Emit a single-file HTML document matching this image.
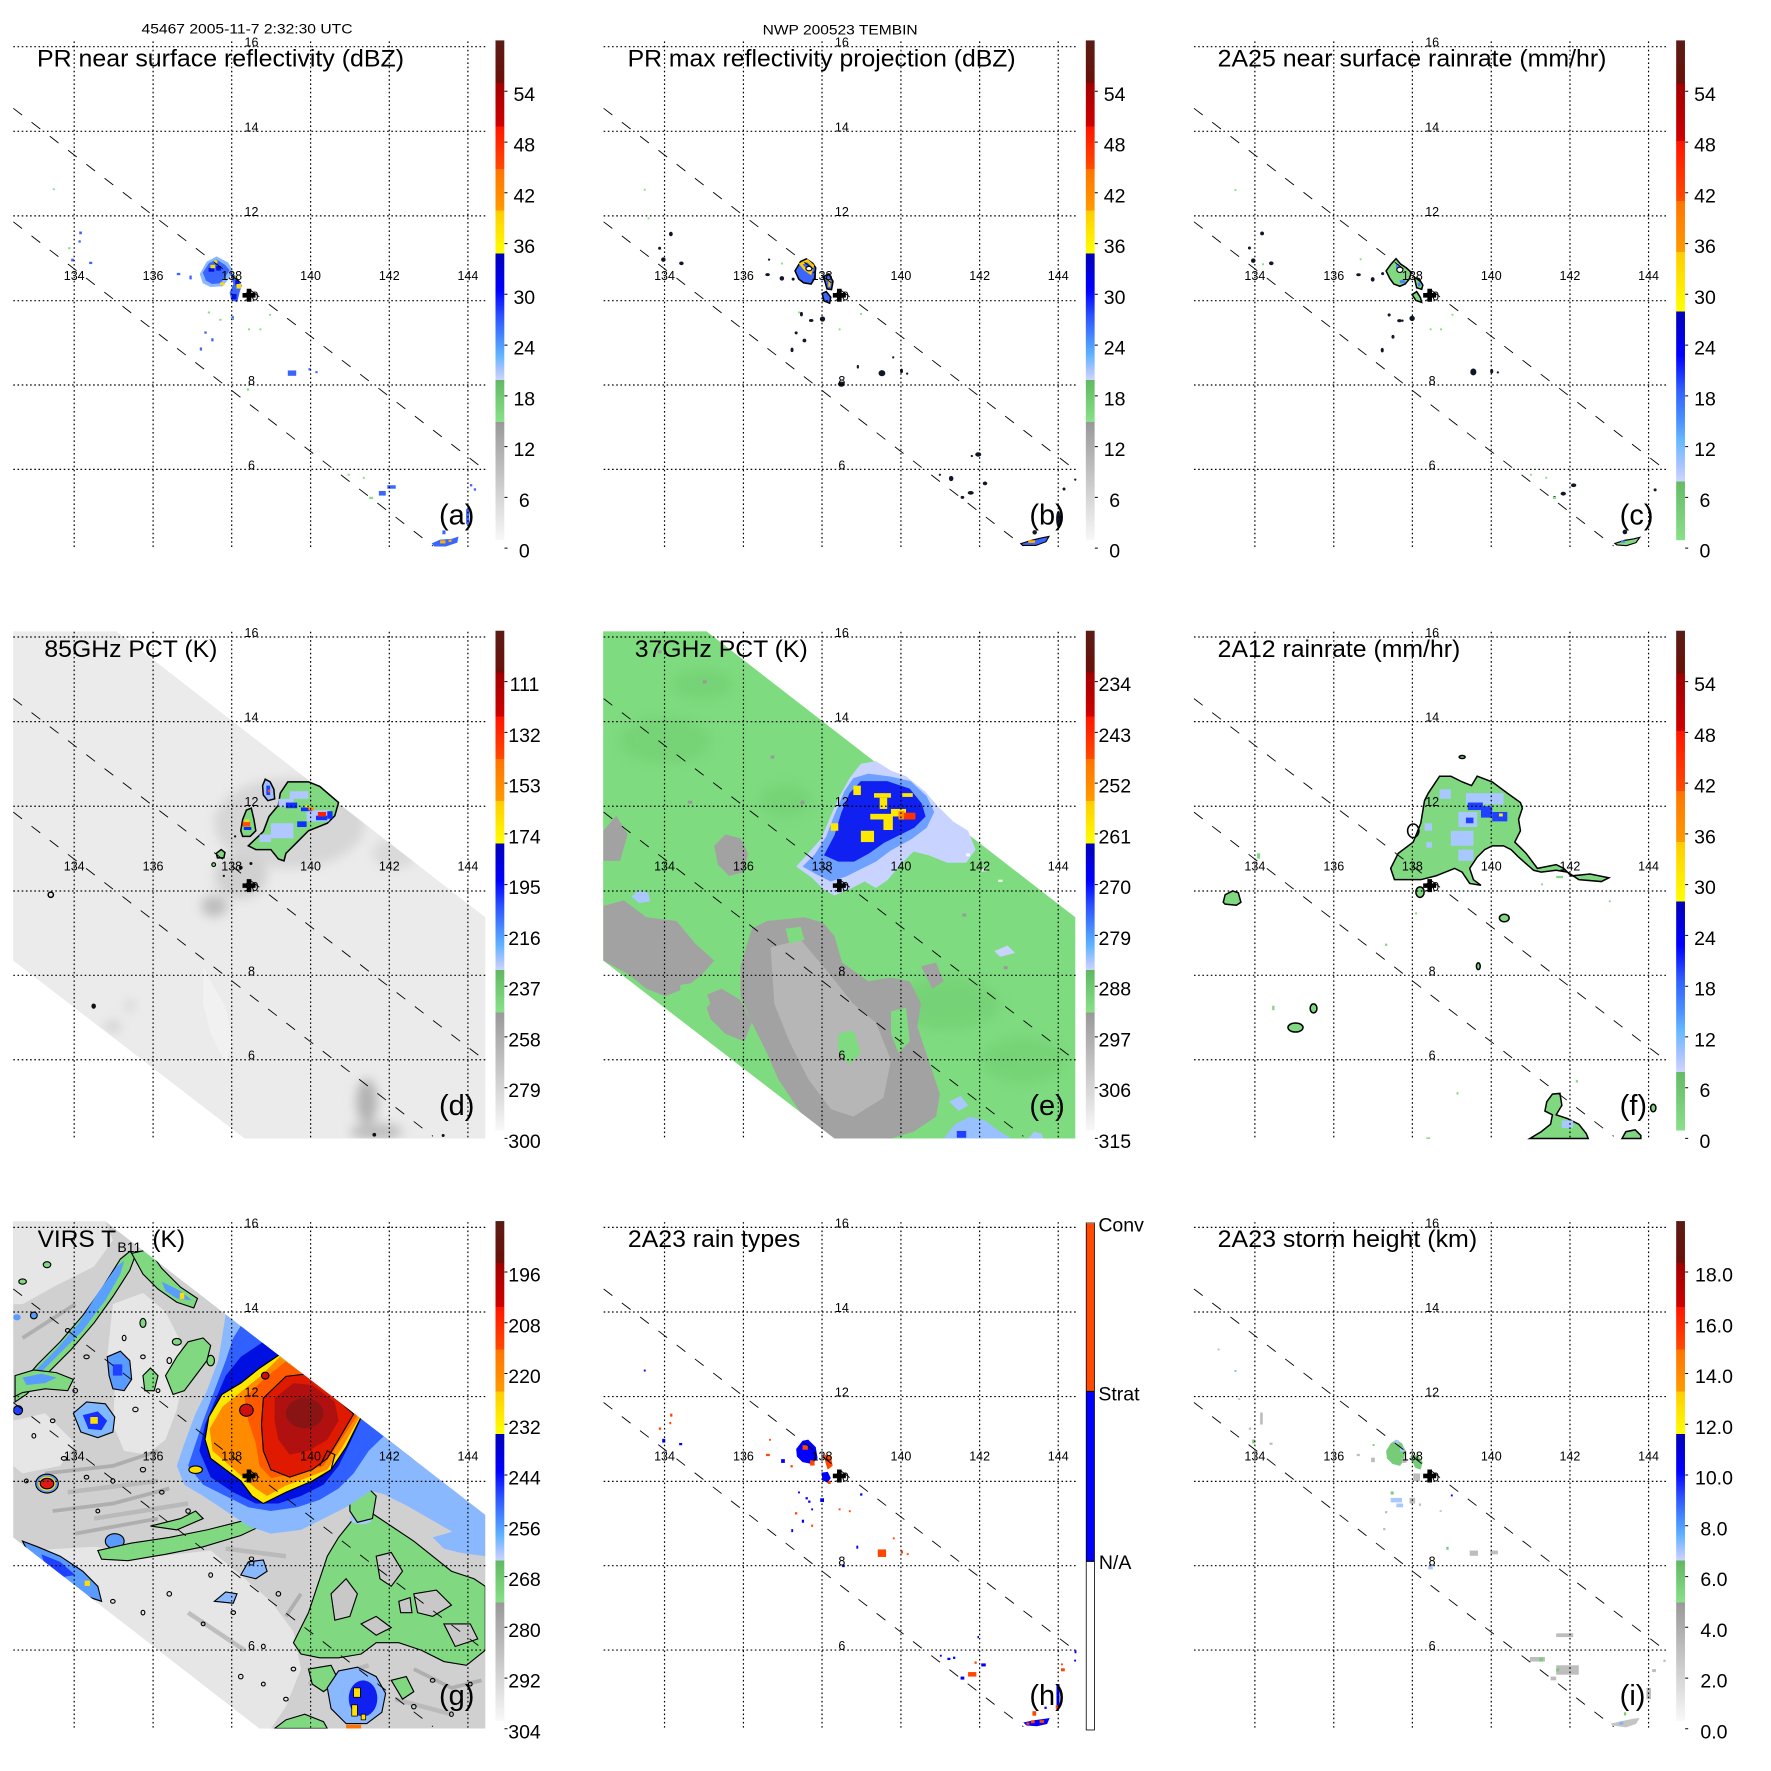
<!DOCTYPE html>
<html><head><meta charset="utf-8"><style>
html,body{margin:0;padding:0;background:#fff;}
svg{display:block;}
text{font-family:"Liberation Sans",Arial,sans-serif;fill:#000;}
.tk{font-size:12.5px;text-anchor:middle;}
.cb{font-size:19.5px;text-anchor:middle;}
.tt{font-size:24.5px;}
.pl{font-size:29px;}
</style></head><body>
<svg width="1771" height="1771" viewBox="0 0 1771 1771" xmlns="http://www.w3.org/2000/svg">
<defs>
<linearGradient id="gA" x1="0" y1="0" x2="0" y2="1">
<stop offset="0" stop-color="#5a1c16"/><stop offset="0.084" stop-color="#6b1008"/>
<stop offset="0.084" stop-color="#a00000"/><stop offset="0.172" stop-color="#d00000"/>
<stop offset="0.172" stop-color="#ff1500"/><stop offset="0.257" stop-color="#ff4a00"/>
<stop offset="0.257" stop-color="#ff7400"/><stop offset="0.3405" stop-color="#ff9a00"/>
<stop offset="0.3405" stop-color="#ffcc00"/><stop offset="0.426" stop-color="#ffff00"/>
<stop offset="0.426" stop-color="#0000b8"/><stop offset="0.50" stop-color="#0000ff"/>
<stop offset="0.55" stop-color="#2a50ff"/><stop offset="0.60" stop-color="#4a90ff"/>
<stop offset="0.63" stop-color="#60b4ff"/><stop offset="0.66" stop-color="#a8c4ff"/>
<stop offset="0.679" stop-color="#ccd4ff"/>
<stop offset="0.679" stop-color="#62b862"/><stop offset="0.7635" stop-color="#88e088"/>
<stop offset="0.7635" stop-color="#999999"/><stop offset="1" stop-color="#f8f8f8"/>
</linearGradient>
<linearGradient id="gC" x1="0" y1="0" x2="0" y2="1">
<stop offset="0" stop-color="#5a1c16"/><stop offset="0.086" stop-color="#6b1008"/>
<stop offset="0.086" stop-color="#a00000"/><stop offset="0.201" stop-color="#d00000"/>
<stop offset="0.201" stop-color="#ff1500"/><stop offset="0.321" stop-color="#ff4a00"/>
<stop offset="0.321" stop-color="#ff7400"/><stop offset="0.423" stop-color="#ff9a00"/>
<stop offset="0.423" stop-color="#ffcc00"/><stop offset="0.542" stop-color="#ffff00"/>
<stop offset="0.542" stop-color="#0000b8"/><stop offset="0.63" stop-color="#0000ff"/>
<stop offset="0.70" stop-color="#3060ff"/><stop offset="0.76" stop-color="#4a90ff"/>
<stop offset="0.80" stop-color="#66b8ff"/><stop offset="0.85" stop-color="#a8c4ff"/>
<stop offset="0.883" stop-color="#d0d4ff"/>
<stop offset="0.883" stop-color="#66bb66"/><stop offset="1" stop-color="#88e088"/>
</linearGradient>
<clipPath id="cDE"><path d="M35 110H310L1290 870V1458H650L35 985Z"/></clipPath>
<clipPath id="cG"><path d="M35 110H280L1290 890V1458H690L35 950Z"/></clipPath>
<filter id="bl" x="-50%" y="-50%" width="200%" height="200%"><feGaussianBlur stdDeviation="14"/></filter>
<g id="grid" fill="none" stroke="#000">
<path stroke-width="1.2" stroke-dasharray="1.6 2.6" d="M13.3 46.7H485.5M13.3 131.3H485.5M13.3 215.9H485.5M13.3 300.7H485.5M13.3 385H485.5M13.3 469.4H485.5M74.2 41.4V548.5M153.1 41.4V548.5M231.7 41.4V548.5M310.6 41.4V548.5M389.3 41.4V548.5M467.9 41.4V548.5"/>
<path stroke-width="0.9" stroke-dasharray="11 12" d="M13.3 108.3L486 470.7M13.3 221.8L433 546"/>
</g>
<path id="cross" fill="#000" d="M242.5 293h13v4.6h-13zM246.7 288.8h4.6v13h-4.6z"/>
<path id="cbt" stroke="#000" stroke-width="1" d="M504.5 91.3h3M504.5 142.1h3M504.5 192.8h3M504.5 243.6h3M504.5 294.3h3M504.5 345.1h3M504.5 395.9h3M504.5 446.6h3M504.5 497.4h3M504.5 548.1h3"/>
</defs>
<rect width="1771" height="1771" fill="#fff"/>

<!-- ============ (a) ============ -->
<g transform="translate(0,0)">
<g transform="scale(0.3827)">
<path fill="#8ab8ff" d="M522 716L540 684L566 670L596 686L608 706L598 728L582 748L550 750L530 740Z"/>
<path fill="#3a66ff" d="M530 712L546 688L566 678L588 692L600 706L590 722L576 740L554 742L538 733Z"/>
<path fill="#3a66ff" d="M600 712L618 722L632 746L626 764L620 790L604 784L600 764L610 742Z"/>
<g fill="#0010e0"><rect x="545" y="700" width="15" height="10"/><rect x="565" y="695" width="12" height="12"/><rect x="606" y="768" width="12" height="14"/><rect x="615" y="732" width="10" height="12"/></g>
<g fill="#ffdc00"><rect x="550" y="692" width="12" height="9"/><rect x="560" y="680" width="8" height="8"/><rect x="575" y="738" width="12" height="7"/><rect x="618" y="742" width="12" height="12"/><rect x="612" y="722" width="9" height="7"/></g>
<g fill="#3a66ff"><rect x="207" y="605" width="7" height="7"/><rect x="205" y="628" width="6" height="6"/><rect x="186" y="676" width="7" height="7"/><rect x="233" y="684" width="8" height="6"/><rect x="462" y="713" width="9" height="6"/><rect x="495" y="720" width="6" height="10"/><rect x="522" y="908" width="6" height="8"/><rect x="552" y="884" width="6" height="8"/><rect x="534" y="866" width="6" height="6"/><rect x="752" y="968" width="22" height="14"/><rect x="806" y="962" width="6" height="6"/><rect x="824" y="970" width="6" height="5"/><rect x="990" y="1283" width="18" height="12"/><rect x="1012" y="1268" width="22" height="9"/><rect x="1228" y="1265" width="6" height="6"/><rect x="1238" y="1276" width="6" height="6"/><rect x="1218" y="1330" width="8" height="40"/><rect x="1156" y="1386" width="8" height="10"/><rect x="605" y="826" width="6" height="10"/></g>
<g fill="#88dd88"><rect x="178" y="646" width="6" height="5"/><rect x="138" y="492" width="5" height="5"/><rect x="543" y="814" width="6" height="5"/><rect x="573" y="833" width="6" height="5"/><rect x="604" y="831" width="5" height="5"/><rect x="648" y="858" width="5" height="5"/><rect x="678" y="858" width="5" height="5"/><rect x="703" y="820" width="5" height="5"/><rect x="908" y="1238" width="6" height="5"/><rect x="948" y="1246" width="5" height="5"/><rect x="965" y="1298" width="10" height="6"/><rect x="645" y="1015" width="6" height="6"/></g>
<path fill="#3a66ff" d="M1128 1420L1150 1410L1180 1408L1198 1402L1195 1418L1165 1428L1135 1428Z"/>
<g fill="#ffb000"><rect x="1150" y="1412" width="14" height="8"/><rect x="1172" y="1410" width="8" height="6"/></g>
</g>
<use href="#grid"/>
<g class="tk"><text x="74.2" y="280">134</text><text x="153.1" y="280">136</text><text x="231.7" y="280">138</text><text x="310.6" y="280">140</text><text x="389.3" y="280">142</text><text x="467.9" y="280">144</text><text x="251.5" y="46.7">16</text><text x="251.5" y="131.3">14</text><text x="251.5" y="215.9">12</text><text x="251.5" y="300.7">10</text><text x="251.5" y="385">8</text><text x="251.5" y="469.4">6</text></g>
<use href="#cross"/>
<text x="247" y="33.7" font-size="14" text-anchor="middle" textLength="211" lengthAdjust="spacingAndGlyphs">45467 2005-11-7 2:32:30 UTC</text>
<text class="tt" x="37" y="66.5" textLength="367" lengthAdjust="spacingAndGlyphs">PR near surface reflectivity (dBZ)</text>
<rect x="495.5" y="40.4" width="8.8" height="499.8" fill="url(#gA)"/>
<use href="#cbt"/>
<g class="cb"><text x="524.3" y="100.8">54</text><text x="524.3" y="151.6">48</text><text x="524.3" y="202.3">42</text><text x="524.3" y="253.1">36</text><text x="524.3" y="303.8">30</text><text x="524.3" y="354.6">24</text><text x="524.3" y="405.4">18</text><text x="524.3" y="456.1">12</text><text x="524.3" y="506.9">6</text><text x="524.3" y="557.6">0</text></g>
<text class="pl" x="439" y="524.5">(a)</text>
</g>

<!-- ============ (b) ============ -->
<g transform="translate(590.33,0)">
<g transform="translate(-0.33,0) scale(0.3762)">
<path fill="#3a66ff" stroke="#000" stroke-width="4" d="M545 720L560 695L575 688L592 700L600 712L597 740L588 755L568 752L555 742Z"/>
<path fill="none" stroke="#ffcc00" stroke-width="7" d="M560 702L578 693L592 706L586 726L572 716Z"/>
<ellipse cx="582" cy="714" rx="8" ry="6" fill="#fff" stroke="#000" stroke-width="3"/>
<path fill="#3a66ff" stroke="#000" stroke-width="4" d="M620 735L635 728L646 748L642 770L630 768L625 750Z"/>
<path fill="none" stroke="#ffcc00" stroke-width="6" d="M627 738L637 748L636 762"/>
<path fill="#3a66ff" stroke="#000" stroke-width="4" d="M617 780L628 775L640 790L637 806L622 800Z"/>
<g fill="#101828"><ellipse cx="215" cy="622" rx="5" ry="6"/><ellipse cx="185" cy="660" rx="4" ry="4"/><ellipse cx="195" cy="690" rx="6" ry="6"/><ellipse cx="243" cy="700" rx="6" ry="5"/><ellipse cx="476" cy="690" rx="3" ry="3"/><ellipse cx="472" cy="730" rx="6" ry="4"/><ellipse cx="510" cy="740" rx="6" ry="6"/><ellipse cx="540" cy="742" rx="4" ry="4"/><ellipse cx="562" cy="835" rx="4" ry="6"/><ellipse cx="588" cy="852" rx="6" ry="4"/><ellipse cx="618" cy="848" rx="7" ry="7"/><ellipse cx="548" cy="885" rx="4" ry="4"/><ellipse cx="570" cy="905" rx="5" ry="5"/><ellipse cx="537" cy="930" rx="4" ry="6"/><ellipse cx="712" cy="975" rx="3" ry="5"/><ellipse cx="776" cy="992" rx="9" ry="8"/><ellipse cx="806" cy="950" rx="3" ry="3"/><ellipse cx="828" cy="986" rx="4" ry="6"/><ellipse cx="843" cy="993" rx="3" ry="3"/><ellipse cx="668" cy="1021" rx="9" ry="7"/><ellipse cx="1032" cy="1208" rx="8" ry="6"/><ellipse cx="1015" cy="1212" rx="3" ry="3"/><ellipse cx="960" cy="1272" rx="6" ry="7"/><ellipse cx="1012" cy="1310" rx="8" ry="5"/><ellipse cx="1050" cy="1285" rx="6" ry="5"/><ellipse cx="990" cy="1322" rx="5" ry="4"/><ellipse cx="1260" cy="1300" rx="4" ry="4"/><ellipse cx="1290" cy="1275" rx="3" ry="3"/><ellipse cx="1245" cy="1380" rx="6" ry="22"/><ellipse cx="1182" cy="1415" rx="6" ry="6"/><ellipse cx="930" cy="1262" rx="3" ry="3"/></g>
<path fill="#3a66ff" stroke="#000" stroke-width="3" d="M1145 1445L1175 1436L1200 1430L1220 1426L1212 1440L1185 1450L1150 1450Z"/>
<rect x="1165" y="1436" width="18" height="7" fill="#ffb000"/>
<g fill="#88dd88"><rect x="143" y="502" width="5" height="5"/><rect x="153" y="578" width="5" height="5"/><rect x="508" y="698" width="5" height="5"/><rect x="553" y="828" width="5" height="5"/><rect x="718" y="832" width="5" height="5"/><rect x="661" y="873" width="5" height="5"/></g>
</g>
<use href="#grid"/>
<g class="tk"><text x="74.2" y="280">134</text><text x="153.1" y="280">136</text><text x="231.7" y="280">138</text><text x="310.6" y="280">140</text><text x="389.3" y="280">142</text><text x="467.9" y="280">144</text><text x="251.5" y="46.7">16</text><text x="251.5" y="131.3">14</text><text x="251.5" y="215.9">12</text><text x="251.5" y="300.7">10</text><text x="251.5" y="385">8</text><text x="251.5" y="469.4">6</text></g>
<use href="#cross"/>
<text x="249.8" y="34.6" font-size="14" text-anchor="middle" textLength="155" lengthAdjust="spacingAndGlyphs">NWP 200523 TEMBIN</text>
<text class="tt" x="37.3" y="66.5" textLength="388" lengthAdjust="spacingAndGlyphs">PR max reflectivity projection (dBZ)</text>
<rect x="495.5" y="40.4" width="8.8" height="499.8" fill="url(#gA)"/>
<use href="#cbt"/>
<g class="cb"><text x="524.3" y="100.8">54</text><text x="524.3" y="151.6">48</text><text x="524.3" y="202.3">42</text><text x="524.3" y="253.1">36</text><text x="524.3" y="303.8">30</text><text x="524.3" y="354.6">24</text><text x="524.3" y="405.4">18</text><text x="524.3" y="456.1">12</text><text x="524.3" y="506.9">6</text><text x="524.3" y="557.6">0</text></g>
<text class="pl" x="439" y="524.5">(b)</text>
</g>

<!-- ============ (c) ============ -->
<g transform="translate(1180.67,0)">
<g transform="translate(-9.67,0) scale(0.3827)">
<path fill="#80d880" stroke="#000" stroke-width="4" d="M562 708L575 690L588 676L600 690L615 700L628 712L622 730L612 742L598 748L582 742L572 728Z"/>
<g fill="#4a80ff"><rect x="588" y="690" width="8" height="12"/><rect x="598" y="732" width="14" height="8"/></g>
<ellipse cx="598" cy="705" rx="8" ry="7" fill="#fff" stroke="#000" stroke-width="3"/>
<path fill="#80d880" stroke="#000" stroke-width="4" d="M636 726L648 728L658 745L655 756L642 752Z"/>
<rect x="645" y="738" width="7" height="10" fill="#4a80ff"/>
<path fill="#80d880" stroke="#000" stroke-width="4" d="M630 770L642 762L652 778L655 790L640 785Z"/>
<g fill="#101828"><ellipse cx="238" cy="610" rx="5" ry="5"/><ellipse cx="205" cy="648" rx="4" ry="4"/><ellipse cx="215" cy="681" rx="6" ry="6"/><ellipse cx="262" cy="688" rx="6" ry="5"/><ellipse cx="490" cy="718" rx="6" ry="4"/><ellipse cx="527" cy="730" rx="5" ry="6"/><ellipse cx="553" cy="715" rx="4" ry="4"/><ellipse cx="570" cy="823" rx="4" ry="4"/><ellipse cx="597" cy="838" rx="6" ry="4"/><ellipse cx="630" cy="832" rx="7" ry="7"/><ellipse cx="552" cy="915" rx="4" ry="6"/><ellipse cx="580" cy="880" rx="4" ry="5"/><ellipse cx="790" cy="972" rx="8" ry="9"/><ellipse cx="838" cy="970" rx="4" ry="6"/><ellipse cx="854" cy="973" rx="3" ry="3"/><ellipse cx="1025" cy="1290" rx="7" ry="5"/><ellipse cx="1052" cy="1268" rx="7" ry="5"/><ellipse cx="1002" cy="1300" rx="4" ry="4"/><ellipse cx="1265" cy="1280" rx="4" ry="4"/><ellipse cx="1186" cy="1390" rx="6" ry="6"/><ellipse cx="605" cy="838" rx="3" ry="3"/></g>
<path fill="#80d880" stroke="#000" stroke-width="3" d="M1160 1420L1185 1412L1210 1408L1225 1404L1215 1418L1190 1426L1165 1424Z"/>
<rect x="1176" y="1412" width="10" height="6" fill="#4a80ff"/>
<g fill="#88dd88"><rect x="166" y="494" width="5" height="5"/><rect x="238" y="688" width="5" height="5"/><rect x="493" y="675" width="5" height="5"/><rect x="676" y="858" width="5" height="5"/><rect x="703" y="858" width="5" height="5"/><rect x="733" y="820" width="5" height="5"/><rect x="938" y="1238" width="5" height="5"/><rect x="978" y="1246" width="5" height="5"/><rect x="998" y="1298" width="8" height="6"/></g>
</g>
<use href="#grid"/>
<g class="tk"><text x="74.2" y="280">134</text><text x="153.1" y="280">136</text><text x="231.7" y="280">138</text><text x="310.6" y="280">140</text><text x="389.3" y="280">142</text><text x="467.9" y="280">144</text><text x="251.5" y="46.7">16</text><text x="251.5" y="131.3">14</text><text x="251.5" y="215.9">12</text><text x="251.5" y="300.7">10</text><text x="251.5" y="385">8</text><text x="251.5" y="469.4">6</text></g>
<use href="#cross"/>
<text class="tt" x="37" y="66.5" textLength="388.8" lengthAdjust="spacingAndGlyphs">2A25 near surface rainrate (mm/hr)</text>
<rect x="495.5" y="40.4" width="8.8" height="499.8" fill="url(#gC)"/>
<use href="#cbt"/>
<g class="cb"><text x="524.3" y="100.8">54</text><text x="524.3" y="151.6">48</text><text x="524.3" y="202.3">42</text><text x="524.3" y="253.1">36</text><text x="524.3" y="303.8">30</text><text x="524.3" y="354.6">24</text><text x="524.3" y="405.4">18</text><text x="524.3" y="456.1">12</text><text x="524.3" y="506.9">6</text><text x="524.3" y="557.6">0</text></g>
<text class="pl" x="439" y="524.5">(c)</text>
</g>

<!-- ============ (d) ============ -->
<g transform="translate(0,590.33)">
<g transform="translate(0,-0.33) scale(0.3762)">
<path fill="#ebebeb" d="M35 110H310L1290 870V1458H650L35 985Z"/>
<g clip-path="url(#cDE)">
<g filter="url(#bl)">
<ellipse cx="770" cy="620" rx="200" ry="120" fill="#cdcdcd" opacity="0.7"/>
<ellipse cx="640" cy="760" rx="70" ry="60" fill="#d0d0d0"/>
<ellipse cx="570" cy="840" rx="35" ry="28" fill="#bdbdbd"/>
<ellipse cx="975" cy="1360" rx="28" ry="60" fill="#b2b2b2"/>
<ellipse cx="1000" cy="1440" rx="70" ry="22" fill="#bdbdbd"/>
<ellipse cx="300" cy="1160" rx="22" ry="14" fill="#cfcfcf"/>
<ellipse cx="345" cy="1105" rx="12" ry="14" fill="#cfcfcf"/>
<ellipse cx="1050" cy="700" rx="60" ry="40" fill="#dadada"/>
</g>
<path fill="#f2f2f2" opacity="0.8" d="M540 1000L560 1040L600 1110L620 1200L600 1260L560 1180L540 1100Z"/>
</g>
<g fill="#111"><ellipse cx="135" cy="810" rx="7" ry="7" fill="none" stroke="#000" stroke-width="4"/><ellipse cx="249" cy="1106" rx="6" ry="7"/><ellipse cx="995" cy="1448" rx="5" ry="5"/><ellipse cx="1178" cy="1450" rx="4" ry="4"/><ellipse cx="667" cy="727" rx="4" ry="4"/><ellipse cx="625" cy="655" rx="3" ry="3"/><ellipse cx="640" cy="738" rx="5" ry="5"/><ellipse cx="595" cy="760" rx="3" ry="3"/></g>
<path fill="#80d880" stroke="#000" stroke-width="4" d="M660 680L700 642L715 602L740 572L745 540L765 510L820 510L850 522L900 565L890 600L870 620L820 640L790 670L760 700L755 720L740 715L720 690L680 690Z"/>
<g fill="#b0c8ff"><rect x="720" y="620" width="60" height="40"/><rect x="740" y="555" width="40" height="22"/><rect x="815" y="585" width="60" height="30"/><rect x="770" y="535" width="50" height="20"/><rect x="690" y="650" width="30" height="20"/></g>
<g fill="#1030ff"><rect x="760" y="565" width="30" height="15"/><rect x="800" y="578" width="30" height="10"/><rect x="790" y="615" width="25" height="15"/><rect x="840" y="600" width="30" height="12"/><rect x="870" y="588" width="14" height="20"/></g>
<rect x="845" y="590" width="22" height="12" fill="#ff2000"/><rect x="820" y="578" width="15" height="8" fill="#ff9900"/><rect x="812" y="572" width="10" height="6" fill="#ffee00"/>
<path fill="#9ec0ff" stroke="#000" stroke-width="4" d="M698 520L705 503L718 510L728 530L730 555L712 560L700 545Z"/>
<rect x="708" y="520" width="10" height="25" fill="#2040ff"/><rect x="712" y="530" width="6" height="8" fill="#ff5000"/>
<path fill="#80d880" stroke="#000" stroke-width="4" d="M640 640L645 610L655 585L668 580L675 610L680 640L665 655L645 655Z"/>
<rect x="645" y="617" width="20" height="12" fill="#ff5000"/><rect x="648" y="630" width="20" height="8" fill="#0030ff"/><rect x="650" y="610" width="12" height="6" fill="#ffdd00"/>
<path fill="#80d880" stroke="#000" stroke-width="4" d="M575 700L588 690L598 698L595 712L578 712Z"/>
<ellipse cx="568" cy="730" rx="5" ry="5" fill="#80d880" stroke="#000" stroke-width="3"/>
</g>
<use href="#grid"/>
<g class="tk"><text x="74.2" y="280">134</text><text x="153.1" y="280">136</text><text x="231.7" y="280">138</text><text x="310.6" y="280">140</text><text x="389.3" y="280">142</text><text x="467.9" y="280">144</text><text x="251.5" y="46.7">16</text><text x="251.5" y="131.3">14</text><text x="251.5" y="215.9">12</text><text x="251.5" y="300.7">10</text><text x="251.5" y="385">8</text><text x="251.5" y="469.4">6</text></g>
<use href="#cross"/>
<text class="tt" x="44.4" y="66.5" textLength="173" lengthAdjust="spacingAndGlyphs">85GHz PCT (K)</text>
<rect x="495.5" y="40.4" width="8.8" height="499.8" fill="url(#gA)"/>
<use href="#cbt"/>
<g class="cb"><text x="524.5" y="100.8">111</text><text x="524.5" y="151.6">132</text><text x="524.5" y="202.3">153</text><text x="524.5" y="253.1">174</text><text x="524.5" y="303.8">195</text><text x="524.5" y="354.6">216</text><text x="524.5" y="405.4">237</text><text x="524.5" y="456.1">258</text><text x="524.5" y="506.9">279</text><text x="524.5" y="557.6">300</text></g>
<text class="pl" x="439" y="524.5">(d)</text>
</g>

<!-- ============ (e) ============ -->
<g transform="translate(590.33,590.33)">
<g transform="translate(-0.33,-0.33) scale(0.3762)">
<path fill="#7fdb7f" d="M35 110H310L1290 870V1458H650L35 985Z"/>
<g clip-path="url(#cDE)">
<g filter="url(#bl)" fill="#70cc70" opacity="0.55">
<ellipse cx="200" cy="400" rx="120" ry="60"/><ellipse cx="300" cy="250" rx="80" ry="40"/><ellipse cx="950" cy="1100" rx="140" ry="70"/><ellipse cx="1150" cy="1250" rx="110" ry="60"/><ellipse cx="520" cy="560" rx="70" ry="40"/>
</g>
<g fill="#a2a2a2">
<path d="M35 840L90 825L150 870L230 880L280 940L330 985L300 1020L250 1060L200 1080L150 1060L100 1020L35 985Z"/>
<path d="M400 1000L430 900L470 880L570 870L620 885L650 920L670 990L740 1040L800 1030L850 1040L880 1100L870 1160L900 1250L930 1340L920 1400L860 1440L800 1458L640 1458L560 1390L500 1300L470 1230L430 1150L400 1080Z"/>
<path d="M330 680L360 650L400 660L420 700L410 750L370 760L340 730Z"/>
<path d="M35 640L70 600L100 650L80 720L35 720Z"/>
<path d="M300 1080L350 1060L400 1090L430 1150L410 1200L360 1180L320 1140Z"/>
<path d="M880 1000L920 990L940 1040L910 1060Z"/>
</g>
<path fill="#b6b6b6" d="M480 950L560 930L620 1000L700 1100L760 1150L800 1250L780 1350L700 1400L640 1380L580 1300L530 1200L490 1100Z"/>
<g fill="#7fdb7f">
<path d="M240 1050L300 1040L320 1100L280 1140L240 1120Z"/>
<path d="M660 1180L700 1170L720 1230L690 1260L660 1230Z"/>
<path d="M800 1120L840 1110L850 1200L820 1230L800 1180Z"/>
<path d="M520 900L560 895L570 930L530 940Z"/>
</g>
<g fill="#999"><rect x="180" y="160" width="10" height="8"/><rect x="300" y="240" width="10" height="8"/><rect x="480" y="440" width="10" height="8"/><rect x="260" y="560" width="12" height="8"/><rect x="560" y="560" width="10" height="10"/><rect x="990" y="860" width="10" height="8"/><rect x="1100" y="1000" width="10" height="8"/></g>
<path fill="#a8c8ff" d="M110 815L130 798L155 805L160 828L130 832Z"/>
<path fill="#c8d4ff" d="M1075 960L1110 945L1130 965L1090 975Z"/>
<path fill="#99c0ff" d="M940 1458L970 1420L1010 1400L1050 1410L1090 1440L1120 1458Z"/>
<path fill="#a8c8ff" d="M955 1360L985 1345L1005 1370L980 1385Z"/>
<rect x="975" y="1438" width="25" height="18" fill="#2040ff"/>
<path fill="#a8c8ff" d="M1165 1458L1180 1440L1200 1445L1205 1458Z"/>
</g>
<path fill="#c8d4ff" d="M548 735L580 700L615 660L640 600L660 555L690 500L720 462L760 455L800 480L840 495L890 535L925 575L965 615L1005 640L1025 690L1000 725L950 725L900 705L860 695L830 725L790 772L760 792L730 775L690 795L650 812L620 795L590 765Z"/>
<path fill="#6ea0ff" d="M565 735L598 702L628 655L648 602L676 535L700 500L740 488L800 496L852 508L895 548L915 590L895 632L855 662L800 692L760 722L720 742L680 762L640 775L600 755Z"/>
<path fill="#1020f0" d="M622 705L650 652L668 592L690 540L720 508L790 508L850 528L882 568L892 602L862 632L822 652L782 672L742 700L702 722L660 722Z"/>
<g fill="#ffe800"><rect x="700" y="520" width="20" height="25"/><rect x="755" y="540" width="45" height="12"/><rect x="770" y="552" width="20" height="30"/><rect x="745" y="595" width="60" height="15"/><rect x="780" y="608" width="25" height="30"/><rect x="800" y="582" width="40" height="20"/><rect x="720" y="640" width="35" height="30"/><rect x="640" y="620" width="20" height="20"/><rect x="830" y="540" width="28" height="10"/></g>
<rect x="820" y="588" width="15" height="22" fill="#ff8800"/><rect x="835" y="592" width="30" height="18" fill="#ff3300"/>
<g fill="#fff" opacity="0.8"><rect x="1040" y="740" width="14" height="8"/><rect x="1000" y="700" width="10" height="8"/><rect x="1085" y="770" width="12" height="6"/></g>
</g>
<use href="#grid"/>
<g class="tk"><text x="74.2" y="280">134</text><text x="153.1" y="280">136</text><text x="231.7" y="280">138</text><text x="310.6" y="280">140</text><text x="389.3" y="280">142</text><text x="467.9" y="280">144</text><text x="251.5" y="46.7">16</text><text x="251.5" y="131.3">14</text><text x="251.5" y="215.9">12</text><text x="251.5" y="300.7">10</text><text x="251.5" y="385">8</text><text x="251.5" y="469.4">6</text></g>
<use href="#cross"/>
<text class="tt" x="44.4" y="66.5" textLength="173" lengthAdjust="spacingAndGlyphs">37GHz PCT (K)</text>
<rect x="495.5" y="40.4" width="8.8" height="499.8" fill="url(#gA)"/>
<use href="#cbt"/>
<g class="cb"><text x="524.5" y="100.8">234</text><text x="524.5" y="151.6">243</text><text x="524.5" y="202.3">252</text><text x="524.5" y="253.1">261</text><text x="524.5" y="303.8">270</text><text x="524.5" y="354.6">279</text><text x="524.5" y="405.4">288</text><text x="524.5" y="456.1">297</text><text x="524.5" y="506.9">306</text><text x="524.5" y="557.6">315</text></g>
<text class="pl" x="439" y="524.5">(e)</text>
</g>

<!-- ============ (f) ============ -->
<g transform="translate(1180.67,590.33)">
<g transform="translate(-0.67,-0.33) scale(0.3762)">
<path fill="#80d880" stroke="#000" stroke-width="4" d="M560 740L580 700L620 670L640 620L650 560L660 540L690 495L720 495L750 510L775 520L790 495L830 510L870 540L905 565L910 580L900 610L905 640L890 670L920 700L950 740L1000 730L1020 740L1040 760L1090 755L1140 765L1120 775L1060 770L1030 750L1000 745L960 750L940 745L900 710L880 690L860 680L830 680L810 690L790 710L770 740L780 770L800 785L770 780L750 750L730 740L680 760L640 770L600 770L570 770Z"/>
<g fill="#a8c8ff"><rect x="690" y="530" width="30" height="25"/><rect x="740" y="590" width="50" height="40"/><rect x="650" y="620" width="20" height="20"/><rect x="720" y="640" width="60" height="40"/><rect x="740" y="690" width="40" height="30"/><rect x="760" y="540" width="100" height="30"/><rect x="655" y="670" width="15" height="15"/></g>
<g fill="#2040ff"><rect x="765" y="565" width="40" height="20"/><rect x="800" y="575" width="30" height="30"/><rect x="830" y="590" width="40" height="25"/><rect x="760" y="605" width="20" height="15"/></g>
<rect x="848" y="594" width="10" height="8" fill="#ffee00"/>
<ellipse cx="620" cy="640" rx="15" ry="18" fill="none" stroke="#000" stroke-width="4"/>
<g fill="#80d880" stroke="#000" stroke-width="4">
<path d="M115 830L120 810L140 800L155 805L162 830L150 838L120 835Z"/>
<ellipse cx="307" cy="1163" rx="20" ry="12"/>
<ellipse cx="355" cy="1112" rx="9" ry="12"/>
<ellipse cx="862" cy="872" rx="13" ry="10"/>
<ellipse cx="638" cy="803" rx="11" ry="14"/>
<ellipse cx="793" cy="1000" rx="5" ry="9"/>
<path d="M930 1458L960 1440L985 1420L990 1395L970 1385L975 1360L990 1340L1010 1338L1015 1370L1000 1395L1030 1405L1060 1420L1080 1445L1085 1458Z"/>
<path d="M1175 1458L1185 1440L1210 1435L1225 1450L1225 1458Z"/>
<ellipse cx="1258" cy="1377" rx="7" ry="10"/>
<ellipse cx="750" cy="444" rx="8" ry="4"/>
</g>
<rect x="1015" y="1410" width="30" height="20" fill="#a8c8ff"/>
<g fill="#80d880"><rect x="245" y="1105" width="6" height="12"/><rect x="545" y="940" width="6" height="6"/><rect x="735" y="1335" width="5" height="6"/><rect x="1140" y="825" width="5" height="5"/><rect x="960" y="780" width="5" height="5"/><rect x="1000" y="760" width="18" height="6"/><rect x="1052" y="1303" width="6" height="6"/><rect x="655" y="1455" width="10" height="4"/><rect x="625" y="857" width="5" height="5"/><rect x="205" y="700" width="8" height="14"/></g>
</g>
<use href="#grid"/>
<g class="tk"><text x="74.2" y="280">134</text><text x="153.1" y="280">136</text><text x="231.7" y="280">138</text><text x="310.6" y="280">140</text><text x="389.3" y="280">142</text><text x="467.9" y="280">144</text><text x="251.5" y="46.7">16</text><text x="251.5" y="131.3">14</text><text x="251.5" y="215.9">12</text><text x="251.5" y="300.7">10</text><text x="251.5" y="385">8</text><text x="251.5" y="469.4">6</text></g>
<use href="#cross"/>
<text class="tt" x="37" y="66.5" textLength="242.6" lengthAdjust="spacingAndGlyphs">2A12 rainrate (mm/hr)</text>
<rect x="495.5" y="40.4" width="8.8" height="499.8" fill="url(#gC)"/>
<use href="#cbt"/>
<g class="cb"><text x="524.3" y="100.8">54</text><text x="524.3" y="151.6">48</text><text x="524.3" y="202.3">42</text><text x="524.3" y="253.1">36</text><text x="524.3" y="303.8">30</text><text x="524.3" y="354.6">24</text><text x="524.3" y="405.4">18</text><text x="524.3" y="456.1">12</text><text x="524.3" y="506.9">6</text><text x="524.3" y="557.6">0</text></g>
<text class="pl" x="439" y="524.5">(f)</text>
</g>

<!-- ============ (g) ============ -->
<g transform="translate(0,1180.67)">
<g transform="translate(0,-0.67) scale(0.3762)">
<path fill="#d0d0d0" d="M35 110H280L1290 890V1458H690L35 950Z"/>
<g clip-path="url(#cG)">
<g fill="#e6e6e6">
<path d="M300 330L380 300L440 350L480 430L490 520L470 610L440 690L390 730L330 720L300 650L305 560L285 470Z"/>
<path d="M35 950L80 985L250 975L420 1000L560 985L640 1050L720 1120L780 1200L800 1300L760 1400L720 1458L690 1458Z"/>
<path d="M35 110L280 110L300 160L250 230L150 280L60 330L35 330Z"/>
<path d="M35 640L120 620L200 700L160 760L60 780L35 760Z"/>
</g>
<g fill="none" stroke="#a6a6a6" stroke-width="10" opacity="0.8">
<path d="M120 780L300 760L420 720"/><path d="M140 880L300 860L450 820"/><path d="M200 940L420 900"/><path d="M60 420L200 330"/><path d="M1100 1300L1200 1350L1280 1330"/><path d="M800 1100L760 1160"/>
</g>
<g fill="none" stroke="#b4b4b4" stroke-width="12" opacity="0.8">
<path d="M180 830L420 800"/><path d="M250 900L500 860"/><path d="M600 980L760 1000"/><path d="M820 1340L980 1290"/><path d="M1050 1380L1200 1420"/><path d="M500 1150L650 1250"/>
</g>
<path fill="#80d880" stroke="#000" stroke-width="3" d="M40 560L100 490L160 430L220 360L270 290L320 210L345 190L360 200L345 240L300 310L250 380L190 450L130 510L70 570L40 590Z"/>
<path fill="#5aa0ff" d="M80 520L150 450L210 380L260 300L310 230L330 215L320 250L280 320L220 400L160 460L100 520Z"/>
<path fill="#80d880" stroke="#000" stroke-width="3" d="M350 195L395 185L430 235L480 285L525 315L515 340L470 325L420 290L380 250Z"/>
<path fill="#5a9bff" d="M430 270L480 295L510 320L470 315L440 295Z"/><rect x="478" y="300" width="12" height="16" fill="#ffdd00"/>
<path fill="#5a9bff" stroke="#000" stroke-width="3" d="M285 470L320 455L345 480L350 530L330 560L300 555L290 520Z"/>
<rect x="300" y="490" width="25" height="30" fill="#2040ff"/>
<path fill="#80b8ff" stroke="#000" stroke-width="3" d="M195 620L230 590L280 595L305 630L300 670L260 685L215 670Z"/>
<path fill="#1530ff" d="M220 625L260 615L285 640L270 665L235 662Z"/><rect x="240" y="630" width="20" height="18" fill="#ffdd00"/>
<path fill="#80d880" stroke="#000" stroke-width="3" d="M40 520L90 505L150 512L195 530L180 560L120 555L60 565L40 575Z"/>
<path fill="#5a9bff" d="M60 525L110 515L150 525L120 540L70 545Z"/>
<ellipse cx="48" cy="612" rx="12" ry="12" fill="#2040ff" stroke="#000" stroke-width="3"/>
<ellipse cx="45" cy="365" rx="10" ry="8" fill="#5a9bff"/><ellipse cx="90" cy="360" rx="9" ry="9" fill="#5a9bff" stroke="#000" stroke-width="3"/>
<g fill="#80d880" stroke="#000" stroke-width="3"><ellipse cx="470" cy="430" rx="12" ry="9"/><ellipse cx="125" cy="225" rx="10" ry="8"/><ellipse cx="60" cy="270" rx="10" ry="7"/><ellipse cx="380" cy="380" rx="8" ry="12"/><ellipse cx="560" cy="480" rx="10" ry="14"/></g>
<path fill="#80d880" stroke="#000" stroke-width="3" d="M440 520L470 470L500 430L540 420L560 440L550 480L520 520L490 560L460 570Z"/>
<path fill="#80d880" stroke="#000" stroke-width="3" d="M380 520L400 500L420 520L410 560L385 560Z"/>
<path fill="#5a9bff" stroke="#000" stroke-width="3" d="M60 960L100 975L160 1000L220 1040L260 1080L270 1120L240 1110L190 1080L130 1040L80 1000Z"/>
<path fill="#2040ff" d="M110 995L160 1015L200 1050L170 1055L120 1025Z"/><rect x="225" y="1065" width="14" height="14" fill="#ffdd00"/>
<ellipse cx="305" cy="960" rx="25" ry="20" fill="#5a9bff" stroke="#000" stroke-width="3"/>
<path fill="#80d880" stroke="#000" stroke-width="3" d="M260 985L350 965L450 950L550 930L650 905L700 880L725 905L640 945L540 975L440 995L340 1012L270 1008Z"/>
<path fill="#80d880" stroke="#000" stroke-width="3" d="M400 920L480 900L520 880L540 900L470 930Z"/>
<path fill="#8ab8ff" stroke="#000" stroke-width="3" d="M640 1050L660 1015L700 1010L710 1040L680 1060Z"/>
<path fill="#8ab8ff" stroke="#000" stroke-width="3" d="M570 1120L600 1095L630 1100L620 1125Z"/>
<path fill="#80d880" stroke="#000" stroke-width="3" d="M780 1230L820 1150L850 1060L870 1000L900 950L940 900L980 880L1040 920L1100 960L1150 1000L1200 1040L1260 1060L1290 1080L1290 1250L1240 1290L1180 1280L1120 1250L1060 1230L1000 1230L960 1260L900 1270L850 1270L800 1260Z"/>
<g fill="#c8c8c8" stroke="#000" stroke-width="3">
<path d="M880 1100L920 1060L950 1100L930 1160L890 1170Z"/><path d="M1000 1000L1040 990L1070 1040L1040 1080L1010 1060Z"/><path d="M1100 1100L1160 1090L1200 1130L1150 1160L1110 1150Z"/><path d="M960 1180L1000 1160L1040 1190L1000 1210Z"/><path d="M1180 1180L1250 1180L1270 1220L1210 1240Z"/><path d="M1060 1120L1090 1110L1095 1150L1065 1150Z"/>
</g>
<ellipse cx="960" cy="900" rx="30" ry="15" fill="#a8c8ff"/>
<path fill="#80d880" stroke="#000" stroke-width="3" d="M820 1300L880 1290L900 1330L860 1360L830 1340Z"/>
<path fill="#80d880" stroke="#000" stroke-width="3" d="M730 1458L760 1435L810 1420L860 1440L870 1458Z"/>
<path fill="#80d880" stroke="#000" stroke-width="3" d="M1040 1330L1080 1320L1100 1360L1070 1380Z"/>
<path fill="#8ab8ff" stroke="#000" stroke-width="3" d="M870 1350L900 1305L950 1295L1000 1320L1025 1365L1015 1415L975 1445L920 1445L880 1405Z"/>
<ellipse cx="965" cy="1378" rx="38" ry="48" fill="#1020f0"/>
<g fill="#ffe000" stroke="#000" stroke-width="2"><rect x="940" y="1350" width="18" height="25"/><rect x="935" y="1395" width="15" height="30"/><rect x="960" y="1420" width="12" height="15"/></g>
<rect x="920" y="1448" width="40" height="12" fill="#ff7000"/>
<path fill="#8ab8ff" d="M960 630L1290 890L1290 960L1220 945L1150 905L1080 865L1020 835L960 820L910 800L890 760L920 690Z"/>
<path fill="#2a50ff" d="M960 630L1100 740L1060 760L1000 740L960 720L940 680Z"/>
<path fill="#80d880" stroke="#000" stroke-width="3" d="M930 830L970 810L1000 840L990 900L950 910L930 880Z"/>
<path fill="#8ab8ff" d="M1150 950L1220 930L1290 960L1290 1000L1220 990L1180 980Z"/>
<path fill="#8ab8ff" d="M470 760L490 700L520 620L550 560L580 480L590 420L600 357L1100 743L1080 780L1020 800L980 830L920 870L860 900L800 930L720 940L660 920L600 880L540 840L490 810Z"/>
<path fill="#3060ff" d="M500 760L520 700L540 640L570 560L600 480L620 420L640 388L1020 681L980 720L940 780L900 820L850 850L790 870L720 880L660 870L600 840L540 810Z"/>
<path fill="#0010e0" d="M530 720L545 650L570 590L600 520L640 470L700 430L742 465L962 631L930 700L900 760L860 810L800 840L740 860L680 860L620 830L560 790Z"/>
<path fill="#ffe600" stroke="#000" stroke-width="3" d="M545 690L555 630L590 570L640 540L690 500L742 465L960 630L920 710L880 770L830 800L760 830L700 860L670 840L640 800L600 770L560 740Z"/>
<path fill="#ff8c00" d="M557 662L592 602L642 562L692 522L744 470L955 632L910 710L870 770L820 790L760 812L710 840L680 820L640 785L600 750L565 720Z"/>
<path fill="#ff5a00" d="M650 580L700 530L760 482L950 626L900 700L860 760L790 780L720 792L690 760L680 700L660 640Z"/>
<path fill="#e01a00" stroke="#000" stroke-width="3" d="M700 580L760 522L820 515L940 622L900 690L870 740L830 770L770 790L720 770L700 720L695 650Z"/>
<path fill="#b01010" d="M730 580L780 540L830 545L890 590L900 640L870 690L820 720L770 730L740 690L730 640Z"/>
<ellipse cx="810" cy="620" rx="50" ry="40" fill="#8a1414"/>
<ellipse cx="655" cy="612" rx="18" ry="16" fill="#d01010" stroke="#000" stroke-width="3"/>
<ellipse cx="705" cy="520" rx="10" ry="9" fill="#d01010" stroke="#000" stroke-width="3"/>
<path fill="none" stroke="#000" stroke-width="3" d="M850 760L870 720L890 730L880 770L850 790"/>
<ellipse cx="125" cy="807" rx="30" ry="25" fill="#5a9bff" stroke="#000" stroke-width="3"/>
<ellipse cx="125" cy="807" rx="23" ry="19" fill="#ffdd00"/>
<ellipse cx="125" cy="807" rx="18" ry="14" fill="#e01818" stroke="#000" stroke-width="3"/>
<ellipse cx="520" cy="770" rx="18" ry="10" fill="#ffdd00" stroke="#000" stroke-width="3"/>
<g fill="none" stroke="#000" stroke-width="3">
<ellipse cx="180" cy="400" rx="6" ry="5"/><ellipse cx="230" cy="470" rx="7" ry="5"/><ellipse cx="200" cy="560" rx="6" ry="6"/><ellipse cx="330" cy="420" rx="5" ry="7"/><ellipse cx="380" cy="470" rx="6" ry="5"/><ellipse cx="360" cy="610" rx="7" ry="6"/><ellipse cx="420" cy="560" rx="5" ry="5"/><ellipse cx="450" cy="480" rx="6" ry="8"/><ellipse cx="140" cy="640" rx="6" ry="5"/><ellipse cx="90" cy="680" rx="5" ry="6"/><ellipse cx="170" cy="740" rx="7" ry="5"/><ellipse cx="230" cy="790" rx="6" ry="5"/><ellipse cx="300" cy="800" rx="5" ry="6"/><ellipse cx="380" cy="770" rx="7" ry="6"/><ellipse cx="430" cy="830" rx="6" ry="5"/><ellipse cx="500" cy="880" rx="6" ry="6"/><ellipse cx="560" cy="1050" rx="5" ry="6"/><ellipse cx="620" cy="1150" rx="6" ry="5"/><ellipse cx="540" cy="1180" rx="5" ry="5"/><ellipse cx="450" cy="1100" rx="6" ry="6"/><ellipse cx="380" cy="1150" rx="5" ry="6"/><ellipse cx="300" cy="1120" rx="6" ry="5"/><ellipse cx="640" cy="1320" rx="6" ry="6"/><ellipse cx="700" cy="1340" rx="5" ry="5"/><ellipse cx="760" cy="1380" rx="6" ry="5"/><ellipse cx="1100" cy="1400" rx="6" ry="6"/><ellipse cx="1200" cy="1420" rx="5" ry="6"/><ellipse cx="1150" cy="1330" rx="6" ry="5"/><ellipse cx="1250" cy="1340" rx="5" ry="5"/><ellipse cx="740" cy="1100" rx="6" ry="6"/><ellipse cx="700" cy="1240" rx="5" ry="6"/><ellipse cx="780" cy="1300" rx="6" ry="5"/><ellipse cx="70" cy="800" rx="5" ry="5"/><ellipse cx="260" cy="880" rx="5" ry="5"/>
</g>
</g>
</g>
<use href="#grid"/>
<g class="tk"><text x="74.2" y="280">134</text><text x="153.1" y="280">136</text><text x="231.7" y="280">138</text><text x="310.6" y="280">140</text><text x="389.3" y="280">142</text><text x="467.9" y="280">144</text><text x="251.5" y="46.7">16</text><text x="251.5" y="131.3">14</text><text x="251.5" y="215.9">12</text><text x="251.5" y="300.7">10</text><text x="251.5" y="385">8</text><text x="251.5" y="469.4">6</text></g>
<use href="#cross"/>
<text class="tt" x="37.6" y="66.5">VIRS T<tspan x="117.4" y="71.5" font-size="14">B11</tspan><tspan x="152.4" y="66.5">(K)</tspan></text>
<rect x="495.5" y="40.4" width="8.8" height="499.8" fill="url(#gA)"/>
<use href="#cbt"/>
<g class="cb"><text x="524.5" y="100.8">196</text><text x="524.5" y="151.6">208</text><text x="524.5" y="202.3">220</text><text x="524.5" y="253.1">232</text><text x="524.5" y="303.8">244</text><text x="524.5" y="354.6">256</text><text x="524.5" y="405.4">268</text><text x="524.5" y="456.1">280</text><text x="524.5" y="506.9">292</text><text x="524.5" y="557.6">304</text></g>
<text class="pl" x="439" y="524.5">(g)</text>
</g>

<!-- ============ (h) ============ -->
<g transform="translate(590.33,1180.67)">
<g transform="translate(-0.33,-0.67) scale(0.3762)">
<path fill="#0000ff" d="M548 715L565 693L580 690L600 710L605 740L590 755L565 750L550 735Z"/>
<path fill="#0000ff" d="M615 778L632 776L640 792L632 805L618 798Z"/>
<g fill="#ff4500"><rect x="565" y="705" width="14" height="12"/><rect x="585" y="745" width="12" height="14"/><path d="M622 730L640 732L645 760L632 770L626 752Z"/><rect x="632" y="800" width="8" height="8"/></g>
<g fill="#0000ff"><rect x="612" y="846" width="10" height="10"/><rect x="553" y="828" width="5" height="5"/><rect x="573" y="843" width="6" height="6"/><rect x="580" y="852" width="6" height="6"/><rect x="588" y="873" width="5" height="5"/><rect x="563" y="903" width="6" height="8"/><rect x="535" y="928" width="5" height="8"/><rect x="508" y="742" width="10" height="10"/><rect x="192" y="688" width="8" height="10"/><rect x="237" y="699" width="8" height="6"/><rect x="143" y="504" width="5" height="5"/><rect x="718" y="833" width="6" height="6"/><rect x="708" y="972" width="5" height="8"/><rect x="670" y="1022" width="7" height="7"/><rect x="930" y="1262" width="5" height="5"/><rect x="950" y="1270" width="8" height="6"/><rect x="965" y="1267" width="6" height="6"/><rect x="985" y="1320" width="10" height="8"/><rect x="1040" y="1285" width="12" height="8"/><rect x="1288" y="1250" width="5" height="8"/><rect x="1287" y="1275" width="5" height="5"/><rect x="1240" y="1340" width="8" height="60"/><rect x="1208" y="1400" width="6" height="6"/><rect x="1030" y="1212" width="4" height="6"/></g>
<g fill="#ff4500"><rect x="545" y="883" width="6" height="6"/><rect x="588" y="916" width="5" height="6"/><rect x="468" y="728" width="10" height="6"/><rect x="476" y="688" width="5" height="5"/><rect x="533" y="758" width="6" height="6"/><rect x="183" y="658" width="6" height="6"/><rect x="213" y="621" width="6" height="8"/><rect x="211" y="643" width="5" height="6"/><rect x="661" y="873" width="5" height="5"/><rect x="688" y="878" width="5" height="5"/><rect x="765" y="982" width="22" height="20"/><rect x="805" y="950" width="5" height="5"/><rect x="826" y="985" width="6" height="8"/><rect x="842" y="992" width="5" height="5"/><rect x="1005" y="1308" width="22" height="12"/><rect x="1022" y="1280" width="6" height="6"/><rect x="1252" y="1298" width="10" height="8"/><rect x="1252" y="1285" width="5" height="5"/><rect x="1176" y="1412" width="10" height="12"/><rect x="1238" y="1396" width="8" height="10"/></g>
<path fill="#0000ff" d="M1152 1442L1180 1436L1210 1432L1222 1430L1215 1446L1188 1452L1160 1450Z"/>
<g fill="#ff4500"><rect x="1172" y="1436" width="10" height="8"/><rect x="1195" y="1436" width="12" height="7"/><rect x="1160" y="1442" width="8" height="6"/></g>
</g>
<use href="#grid"/>
<g class="tk"><text x="74.2" y="280">134</text><text x="153.1" y="280">136</text><text x="231.7" y="280">138</text><text x="310.6" y="280">140</text><text x="389.3" y="280">142</text><text x="467.9" y="280">144</text><text x="251.5" y="46.7">16</text><text x="251.5" y="131.3">14</text><text x="251.5" y="215.9">12</text><text x="251.5" y="300.7">10</text><text x="251.5" y="385">8</text><text x="251.5" y="469.4">6</text></g>
<use href="#cross"/>
<text class="tt" x="37.6" y="66.5" textLength="172.4" lengthAdjust="spacingAndGlyphs">2A23 rain types</text>
<rect x="495.9" y="42.1" width="8.2" height="168.6" fill="#ff4a00"/>
<rect x="495.9" y="210.7" width="8.2" height="170" fill="#0000ff"/>
<rect x="495.9" y="380.7" width="8.2" height="168.6" fill="#fff"/>
<rect x="495.9" y="42.1" width="8.2" height="507.2" fill="none" stroke="#000" stroke-width="0.8"/>
<path d="M495.9 210.7h8.2M495.9 380.7h8.2" stroke="#000" stroke-width="1"/>
<path d="M495.9 42.1h8.2" stroke="#999" stroke-width="1.2"/>
<g font-size="19.5px"><text x="508" y="50.8">Conv</text><text x="508" y="220">Strat</text><text x="508.5" y="388.3">N/A</text></g>
<text class="pl" x="439" y="524.5">(h)</text>
</g>

<!-- ============ (i) ============ -->
<g transform="translate(1180.67,1180.67)">
<g transform="translate(-0.67,-0.67) scale(0.3762)">
<path fill="#77cc77" d="M548 720L560 700L575 690L590 700L600 720L595 745L585 760L565 755L550 740Z"/>
<path fill="#77cc77" d="M612 735L632 730L645 750L640 770L625 765Z"/>
<g fill="#a8c8ff"><rect x="570" y="692" width="12" height="10"/><rect x="585" y="710" width="10" height="12"/><rect x="560" y="845" width="30" height="12"/><rect x="575" y="860" width="18" height="10"/><rect x="660" y="1025" width="12" height="10"/></g>
<g fill="#bdbdbd"><rect x="590" y="740" width="12" height="12"/><rect x="620" y="780" width="18" height="20"/><rect x="610" y="845" width="15" height="15"/><rect x="635" y="860" width="6" height="6"/><rect x="213" y="618" width="7" height="32"/><rect x="238" y="698" width="8" height="6"/><rect x="183" y="658" width="6" height="6"/><rect x="508" y="738" width="10" height="12"/><rect x="470" y="728" width="8" height="6"/><rect x="770" y="985" width="22" height="14"/><rect x="825" y="985" width="20" height="10"/><rect x="1000" y="1205" width="45" height="10"/><rect x="930" y="1268" width="40" height="12"/><rect x="1000" y="1290" width="60" height="25"/><rect x="985" y="1320" width="15" height="10"/><rect x="1240" y="1350" width="12" height="30"/><rect x="1255" y="1300" width="10" height="8"/><rect x="1285" y="1275" width="6" height="6"/><rect x="545" y="880" width="6" height="6"/><rect x="540" y="925" width="6" height="6"/><rect x="100" y="448" width="5" height="5"/><rect x="155" y="580" width="5" height="5"/><rect x="690" y="878" width="6" height="4"/></g>
<g fill="#77cc77"><rect x="192" y="690" width="8" height="10"/><rect x="708" y="975" width="6" height="8"/><rect x="560" y="828" width="8" height="8"/><rect x="955" y="1270" width="10" height="10"/><rect x="1000" y="1298" width="8" height="8"/><rect x="512" y="702" width="5" height="5"/><rect x="1180" y="1415" width="6" height="8"/></g>
<rect x="145" y="505" width="5" height="5" fill="#80b4ff"/>
<rect x="720" y="836" width="5" height="5" fill="#0000ff"/>
<path fill="#c4c4c4" d="M1145 1445L1175 1438L1205 1432L1222 1430L1212 1446L1185 1455L1150 1450Z"/>
<rect x="1168" y="1440" width="10" height="8" fill="#80b4ff"/>
</g>
<use href="#grid"/>
<g class="tk"><text x="74.2" y="280">134</text><text x="153.1" y="280">136</text><text x="231.7" y="280">138</text><text x="310.6" y="280">140</text><text x="389.3" y="280">142</text><text x="467.9" y="280">144</text><text x="251.5" y="46.7">16</text><text x="251.5" y="131.3">14</text><text x="251.5" y="215.9">12</text><text x="251.5" y="300.7">10</text><text x="251.5" y="385">8</text><text x="251.5" y="469.4">6</text></g>
<use href="#cross"/>
<text class="tt" x="37" y="66.5" textLength="259.5" lengthAdjust="spacingAndGlyphs">2A23 storm height (km)</text>
<rect x="495.5" y="40.4" width="8.8" height="499.8" fill="url(#gA)"/>
<use href="#cbt"/>
<g class="cb"><text x="533.3" y="100.8">18.0</text><text x="533.3" y="151.6">16.0</text><text x="533.3" y="202.3">14.0</text><text x="533.3" y="253.1">12.0</text><text x="533.3" y="303.8">10.0</text><text x="533.3" y="354.6">8.0</text><text x="533.3" y="405.4">6.0</text><text x="533.3" y="456.1">4.0</text><text x="533.3" y="506.9">2.0</text><text x="533.3" y="557.6">0.0</text></g>
<text class="pl" x="439" y="524.5">(i)</text>
</g>
</svg>
</body></html>
